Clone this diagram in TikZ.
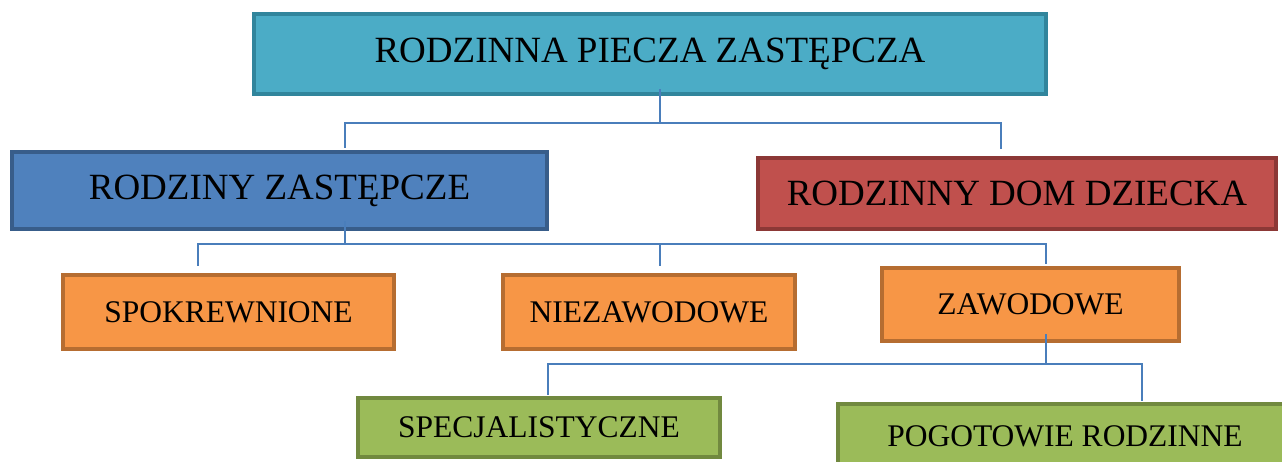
\documentclass[tikz,border=0pt]{standalone}
\usepackage{fontspec}
\setmainfont{Liberation Serif}
\usetikzlibrary{calc}

\definecolor{tealfill}{HTML}{4BACC6}
\definecolor{tealline}{HTML}{31859C}
\definecolor{bluefill}{HTML}{4F81BD}
\definecolor{blueline}{HTML}{385D8A}
\definecolor{redfill}{HTML}{C0504D}
\definecolor{redline}{HTML}{8C3836}
\definecolor{orangefill}{HTML}{F79646}
\definecolor{orangeline}{HTML}{B66D31}
\definecolor{greenfill}{HTML}{9BBB59}
\definecolor{greenline}{HTML}{71893F}
\definecolor{linkblue}{HTML}{4A7EBB}

\begin{document}
\begin{tikzpicture}[x=1pt,y=-1pt,
 link/.style={draw=linkblue,line width=1.8pt},
 box/.style={rectangle,draw,line width=4pt,inner sep=0pt,
  font=\fontsize{37}{40}\selectfont},
 small box/.style={box,font=\fontsize{31.5}{34}\selectfont}]

  \useasboundingbox (0,0) rectangle (1282,461);
  \clip (0,0) rectangle (1282,461);

  \node[box,fill=tealfill,draw=tealline,minimum width=792pt,minimum height=80pt]
   (rpz) at (650,54) {RODZINNA PIECZA ZASTĘPCZA};
  \node[box,fill=bluefill,draw=blueline,minimum width=535pt,minimum height=77pt]
   (rz) at (279.5,190.5) {RODZINY ZASTĘPCZE};
  \node[box,fill=redfill,draw=redline,minimum width=518pt,minimum height=71pt]
   (rdd) at (1017,193.5) {RODZINNY DOM DZIECKA};

  \node[small box,fill=orangefill,draw=orangeline,minimum width=331pt,minimum height=74pt]
   (spok) at (228.5,312) {SPOKREWNIONE};
  \node[small box,fill=orangefill,draw=orangeline,minimum width=292pt,minimum height=74pt]
   (niez) at (649,312) {NIEZAWODOWE};
  \node[small box,fill=orangefill,draw=orangeline,minimum width=297pt,minimum height=73pt]
   (zawo) at (1030.5,304.5) {ZAWODOWE};

  \node[small box,fill=greenfill,draw=greenline,minimum width=362pt,minimum height=59pt]
   (spec) at (539,427.5) {SPECJALISTYCZNE};
  \node[small box,fill=greenfill,draw=greenline,minimum width=454pt,minimum height=64pt]
   (pogo) at (1065,436) {POGOTOWIE RODZINNE};

  % first level
  \coordinate (j1) at (660,123);
  \draw[link] ($(rpz.south)+(10,-7)$) -- (j1);
  \foreach \n/\dx/\dy in {rz/65.5/-2, rdd/-16/-7} {
   \draw[link] (j1) -| ($(\n.north)+(\dx,\dy)$);}

  % second level
  \coordinate (j2) at (345,244);
  \draw[link] ($(rz.south)+(65.5,-10)$) -- (j2);
  \foreach \n/\dx/\dy in {spok/-30.5/-7, niez/11/-7, zawo/15.5/-2} {
   \draw[link] (j2) -| ($(\n.north)+(\dx,\dy)$);}

  % third level
  \coordinate (j3) at (1046,364);
  \draw[link] ($(zawo.south)+(15.5,-9)$) -- (j3);
  \foreach \n/\dx/\dy in {spec/9/-1, pogo/77/-1} {
   \draw[link] (j3) -| ($(\n.north)+(\dx,\dy)$);}
\end{tikzpicture}
\end{document}
